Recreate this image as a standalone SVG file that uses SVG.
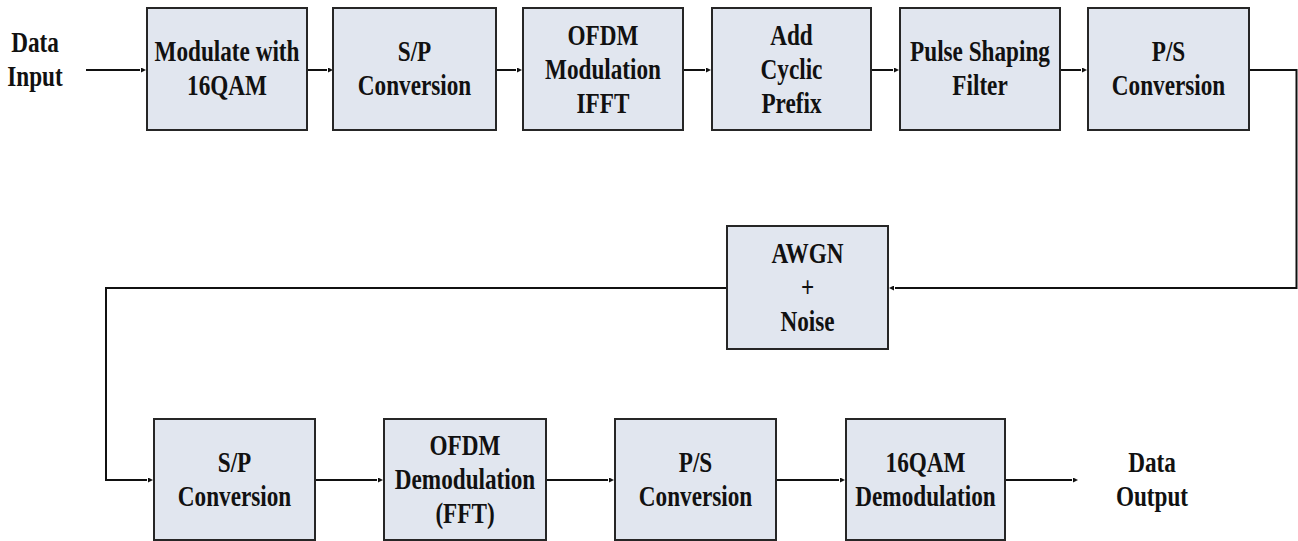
<svg xmlns="http://www.w3.org/2000/svg" width="1298" height="541" viewBox="0 0 1298 541">
  <style>
    .box { fill: #e1e6ef; stroke: #262626; stroke-width: 2; }
    .lbl { font-weight: bold; font-size: 29px; fill: #111; text-anchor: middle; }
    .wire { fill: none; stroke: #111; stroke-width: 2; marker-end: url(#arr); }
  </style>
  <defs>
    <marker id="arr" viewBox="0 0 10 10" refX="-2" refY="5" markerWidth="5" markerHeight="5" markerUnits="userSpaceOnUse" orient="auto">
      <path d="M0,0 L10,5 L0,10 z" fill="#111"/>
    </marker>
  </defs>

  <rect width="1298" height="541" fill="#fff"/>

  <!-- signal paths -->
  <g id="connectors">
    <path class="wire" d="M86,70 H140"/>
    <path class="wire" d="M307,70 H327"/>
    <path class="wire" d="M496,70 H516"/>
    <path class="wire" d="M683,70 H705"/>
    <path class="wire" d="M871,70 H893"/>
    <path class="wire" d="M1060,70 H1081"/>
    <path class="wire" d="M1249,70 H1296.5 V288 H895"/>
    <path class="wire" d="M727,288 H106 V480 H147"/>
    <path class="wire" d="M315,480 H377"/>
    <path class="wire" d="M546,480 H608"/>
    <path class="wire" d="M776,480 H839"/>
    <path class="wire" d="M1005,480 H1072"/>
  </g>

  <g font-family="'Liberation Serif', 'DejaVu Serif', serif">
  <!-- transmitter chain -->
  <g id="data-input">
    <text class="lbl" transform="translate(35,0) scale(0.8,1)"><tspan x="0" y="52">Data</tspan><tspan x="0" y="86">Input</tspan></text>
  </g>
  <g id="modulate">
    <rect class="box" x="147" y="8" width="160" height="122"/>
    <text class="lbl" transform="translate(227,0) scale(0.8,1)"><tspan x="0" y="61">Modulate with</tspan><tspan x="0" y="95">16QAM</tspan></text>
  </g>
  <g id="sp-tx">
    <rect class="box" x="333" y="8" width="163" height="122"/>
    <text class="lbl" transform="translate(414.5,0) scale(0.8,1)"><tspan x="0" y="61">S/P</tspan><tspan x="0" y="95">Conversion</tspan></text>
  </g>
  <g id="ifft">
    <rect class="box" x="523" y="8" width="160" height="122"/>
    <text class="lbl" transform="translate(603,0) scale(0.8,1)"><tspan x="0" y="45">OFDM</tspan><tspan x="0" y="79">Modulation</tspan><tspan x="0" y="113">IFFT</tspan></text>
  </g>
  <g id="cyclic-prefix">
    <rect class="box" x="712" y="8" width="159" height="122"/>
    <text class="lbl" transform="translate(791.5,0) scale(0.8,1)"><tspan x="0" y="45">Add</tspan><tspan x="0" y="79">Cyclic</tspan><tspan x="0" y="113">Prefix</tspan></text>
  </g>
  <g id="pulse-shaping">
    <rect class="box" x="900" y="8" width="160" height="122"/>
    <text class="lbl" transform="translate(980,0) scale(0.8,1)"><tspan x="0" y="61">Pulse Shaping</tspan><tspan x="0" y="95">Filter</tspan></text>
  </g>
  <g id="ps-tx">
    <rect class="box" x="1088" y="8" width="161" height="122"/>
    <text class="lbl" transform="translate(1168.5,0) scale(0.8,1)"><tspan x="0" y="61">P/S</tspan><tspan x="0" y="95">Conversion</tspan></text>
  </g>

  <!-- channel -->
  <g id="awgn">
    <rect class="box" x="727" y="226" width="161" height="123"/>
    <text class="lbl" transform="translate(807.5,0) scale(0.8,1)"><tspan x="0" y="263">AWGN</tspan><tspan x="0" y="297">+</tspan><tspan x="0" y="331">Noise</tspan></text>
  </g>

  <!-- receiver chain -->
  <g id="sp-rx">
    <rect class="box" x="154" y="419" width="161" height="121"/>
    <text class="lbl" transform="translate(234.5,0) scale(0.8,1)"><tspan x="0" y="472">S/P</tspan><tspan x="0" y="506">Conversion</tspan></text>
  </g>
  <g id="fft">
    <rect class="box" x="384" y="419" width="162" height="121"/>
    <text class="lbl" transform="translate(465,0) scale(0.8,1)"><tspan x="0" y="455">OFDM</tspan><tspan x="0" y="489">Demodulation</tspan><tspan x="0" y="523">(FFT)</tspan></text>
  </g>
  <g id="ps-rx">
    <rect class="box" x="615" y="419" width="161" height="121"/>
    <text class="lbl" transform="translate(695.5,0) scale(0.8,1)"><tspan x="0" y="472">P/S</tspan><tspan x="0" y="506">Conversion</tspan></text>
  </g>
  <g id="demodulate">
    <rect class="box" x="846" y="419" width="159" height="121"/>
    <text class="lbl" transform="translate(925.5,0) scale(0.8,1)"><tspan x="0" y="472">16QAM</tspan><tspan x="0" y="506">Demodulation</tspan></text>
  </g>
  <g id="data-output">
    <text class="lbl" transform="translate(1152,0) scale(0.8,1)"><tspan x="0" y="472">Data</tspan><tspan x="0" y="506">Output</tspan></text>
  </g>
  </g>
</svg>
